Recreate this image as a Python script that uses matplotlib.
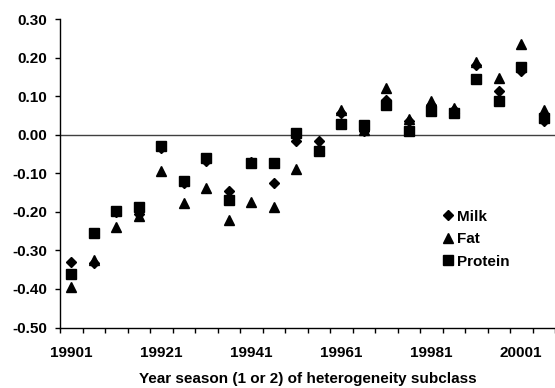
import numpy as np
import matplotlib
matplotlib.use('Agg')
import matplotlib.pyplot as plt

plt.rcParams['font.family'] = ['Liberation Sans', 'DejaVu Sans']

# Year-season codes (year + season 1 or 2)
seasons = ['19901', '19902', '19911', '19912', '19921', '19922', '19931', '19932',
           '19941', '19942', '19951', '19952', '19961', '19962', '19971', '19972',
           '19981', '19982', '19991', '19992', '20001', '20002']

milk = [-0.329, -0.332, -0.200, -0.205, -0.035, -0.125, -0.068, -0.145,
        -0.070, -0.126, -0.016, -0.017, 0.058, 0.010, 0.090, 0.036,
        0.078, 0.064, 0.182, 0.115, 0.167, 0.035]
fat = [-0.394, -0.325, -0.238, -0.210, -0.095, -0.178, -0.137, -0.221,
       -0.173, -0.186, -0.088, -0.035, 0.065, 0.012, 0.121, 0.041,
       0.088, 0.069, 0.188, 0.147, 0.236, 0.065]
protein = [-0.361, -0.255, -0.197, -0.188, -0.029, -0.121, -0.061, -0.169,
           -0.074, -0.074, 0.006, -0.043, 0.028, 0.025, 0.078, 0.011,
           0.061, 0.056, 0.145, 0.087, 0.177, 0.045]

label_every = 4
yticks = np.round(np.arange(-0.5, 0.31, 0.1), 2)
FS = 11

fig = plt.figure(figsize=(5.55, 3.88), dpi=100)
ax = fig.add_axes([60 / 555, 1 - 327.5 / 388, 1 - 60 / 555, (327.5 - 19.3) / 388])

x = np.arange(len(seasons))
ax.axhline(0, color='#404040', linewidth=1.0, zorder=1)
ax.plot(x, milk, linestyle='none', marker='D', markersize=4.6, color='black',
        label='Milk', zorder=3)
ax.plot(x, fat, linestyle='none', marker='^', markersize=7, color='black',
        label='Fat', zorder=4)
ax.plot(x, protein, linestyle='none', marker='s', markersize=7, color='black',
        label='Protein', zorder=5)

ax.set_xlim(-0.5, len(seasons) - 0.5)
ax.set_ylim(-0.5, 0.3)
ax.set_yticks(yticks)
ax.set_yticklabels([f'{v + 0.0:.2f}' for v in yticks], fontsize=FS, fontweight='bold')

# category axis: tick marks at boundaries, labels at centers
ax.set_xticks(x[::label_every])
ax.set_xticklabels(seasons[::label_every], fontsize=FS, fontweight='bold')
ax.set_xticks(np.arange(-0.5, len(seasons)), minor=True)
ax.tick_params(axis='x', which='major', length=0, pad=13)
ax.tick_params(axis='x', which='minor', length=3.6, width=1, direction='out')
ax.tick_params(axis='y', length=3.6, width=1, direction='out', pad=5.5)

for side in ['top', 'right']:
    ax.spines[side].set_visible(False)
for side in ['left', 'bottom']:
    ax.spines[side].set_linewidth(1.0)
    ax.spines[side].set_color('black')

ax.set_xlabel('Year season (1 or 2) of heterogeneity subclass', fontsize=FS,
              fontweight='bold', labelpad=9)

leg = ax.legend(loc='upper left', bbox_to_anchor=(0.772, 0.382), frameon=False,
                prop={'size': FS, 'weight': 'bold'}, handletextpad=0.2,
                handlelength=0.8, labelspacing=0.55, borderaxespad=0,
                borderpad=0)

fig.savefig('out.png', dpi=100)
